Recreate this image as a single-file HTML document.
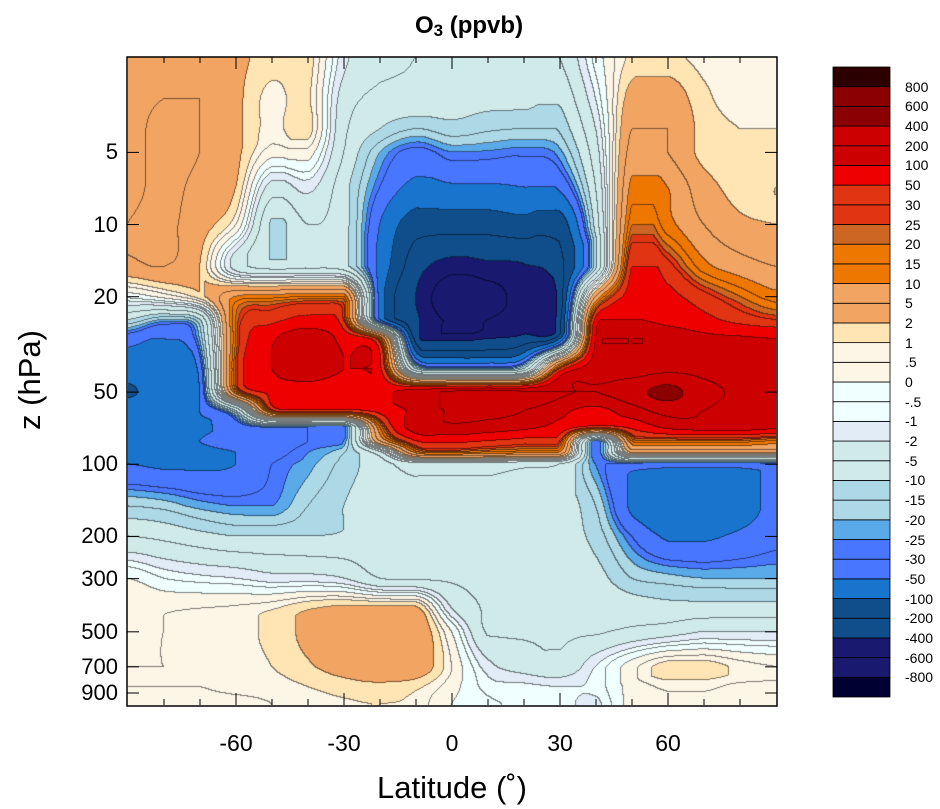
<!DOCTYPE html>
<html><head><meta charset="utf-8"><style>
body{margin:0;background:#fff;width:940px;height:809px;overflow:hidden;position:relative;font-family:"Liberation Sans",sans-serif}
.abs{position:absolute}
.yl{position:absolute;right:822px;font-size:22px;line-height:22px;text-align:right}
.xl{position:absolute;top:730px;font-size:23px;width:60px;text-align:center;margin-left:-30px}
.cbl{position:absolute;left:905px;font-size:14px;line-height:14px}
</style></head><body>
<div class="abs" style="left:0;width:940px;top:12px;text-align:center;font-weight:bold;font-size:24px"><span style="margin-left:-2px">O<span style="font-size:17px;position:relative;top:3px">3</span> (ppvb)</span></div>
<canvas id="cv" width="648" height="648" class="abs" style="left:128px;top:57px"></canvas>
<svg class="abs" style="left:0;top:0" width="940" height="809" id="ax"></svg>
<div class="abs" style="left:127px;width:650px;top:770px;text-align:center;font-size:31px">Latitude (˚)</div>
<div class="abs" style="left:30px;top:380px;font-size:31px;transform:translate(-50%,-50%) rotate(-90deg);white-space:nowrap">z (hPa)</div>
<div id="lbls"></div>
<script>
const lats=[-90,-80,-70,-60,-50,-40,-30,-20,-10,0,10,20,30,40,50,60,70,80,90];
const pressures=[2,3,4,5,7,10,15,20,25,30,40,50,60,70,80,90,100,150,200,300,400,500,700,850,1000];
const o3=[
[4,4,4,2.5,1.5,1.5,-1.5,-4,-5,-5,-5,-5,-5,-0.3,1.2,1.2,0.8,0.8,0.8],
[4,5,5,2.5,0.7,1.2,-3,-6,-6,-7,-8,-8,-9,-1,3,3.5,1.2,0.8,0.8],
[4,6,5,2.5,0.7,1.5,-4,-10,-15,-12,-14,-15,-14,-2,5,5,1.5,1,1],
[4,6,5,2.5,0.2,0.3,-5,-20,-35,-25,-26,-28,-22,-3,7,5,1.5,1.2,1.5],
[4,6,4,2,-3,-1.5,-8,-30,-60,-55,-55,-50,-45,-5,12,10,3,1.5,2],
[5,6,3,0.5,-11,-5,-8,-50,-150,-150,-150,-130,-150,-8,20,12,5,2.5,2],
[4,5,2,-3,-7,-6,-8,-60,-300,-500,-450,-420,-250,-12,50,35,12,7,5],
[-0.3,0.2,1.5,10,12,15,15,-60,-400,-750,-700,-500,-300,5,70,60,35,20,12],
[-10,-20,-10,20,40,60,30,-50,-350,-650,-600,-450,-250,60,100,80,60,40,30],
[-40,-50,-20,20,90,150,80,20,-250,-450,-400,-300,-100,100,200,160,120,110,100],
[-70,-70,-40,25,100,150,100,60,-10,-20,-20,-10,30,150,150,170,160,140,120],
[-110,-70,-50,15,60,70,60,80,150,220,250,220,200,200,300,500,250,180,150],
[-70,-60,-50,-10,25,40,40,60,120,220,250,200,120,80,150,250,200,150,120],
[-60,-60,-55,-40,-25,-25,-30,15,150,180,150,120,80,40,60,120,150,150,120],
[-60,-55,-50,-40,-35,-30,-25,5,50,60,50,40,30,-25,15,20,20,20,15],
[-55,-55,-55,-50,-35,-25,-15,-3,10,15,12,10,8,-30,2,2,2,2,2],
[-50,-55,-55,-50,-30,-22,-13,-7,-3,-3,-3,-4,-5,-25,-35,-40,-40,-40,-35],
[-15,-17,-22,-25,-25,-15,-10,-6,-5.5,-5.5,-5.5,-6,-7,-15,-55,-70,-70,-60,-45],
[-5,-6,-8,-10,-10,-10,-9,-6,-5.5,-5.5,-5.5,-6,-7,-12,-30,-55,-55,-45,-35],
[0,-0.5,-0.8,-1,-1.5,-1.5,-2,-5,-5.5,-5.5,-5.5,-6,-6,-8,-15,-18,-20,-20,-20],
[0.3,0.4,0.5,0.6,0.9,1.8,2.5,2.5,2.5,-2,-5.5,-5.5,-5.5,-6,-7,-8,-8,-8,-8],
[0.3,0.5,0.6,0.8,1.2,2.5,4,4.5,4.5,0,-5.5,-5.5,-5.5,-5.5,-4,-3,-2,-2,-2],
[0.5,0.5,0.6,0.7,1,1.8,3,4.5,4,0.5,-1.5,-3,-4,-1,0.3,1.5,1.5,0.8,0.5],
[0.5,0.5,0.5,0.6,0.7,1,1.4,1.6,1.2,0.2,-0.7,-0.8,-1,-0.8,0.2,0.6,0.6,0.4,0.4],
[0.4,0.4,0.4,0.4,0.5,0.7,0.9,1,0.8,0,-0.4,-0.6,-0.7,-1.2,0.2,0.4,0.4,0.4,0.4]];
const levels=[-800,-600,-400,-200,-100,-50,-30,-25,-20,-15,-10,-5,-2,-1,-0.5,0,0.5,1,2,5,10,15,20,25,30,50,100,200,400,600,800];
const levelLabels=["-800","-600","-400","-200","-100","-50","-30","-25","-20","-15","-10","-5","-2","-1","-.5","0",".5","1","2","5","10","15","20","25","30","50","100","200","400","600","800"];
const colors=["#000033","#191970","#191970","#104e8b","#104e8b","#1874cd","#4876ff","#4876ff","#5aaaea","#add8e6","#add8e6","#d0eaea","#d0eaea","#e2ecf7","#f0ffff","#f0ffff","#fdf5e6","#fdf5e6","#ffe4b4","#f2a463","#f2a463","#ee7700","#ee7700","#cc6622","#e03412","#e03412","#ee0000","#cc0000","#cc0000","#8b0000","#8b0000","#2d0000"];
const xTicks=[-60,-30,0,30,60];
const yTicks=[5,10,20,50,100,200,300,500,700,900];

const X0=128,X1=776,Y0=57,Y1=705,PTOP=2,PBOT=1010;
function xScale(lat){return X0+(lat+90)/180*(X1-X0);}
function yScale(p){return Y0+(Math.log10(p)-Math.log10(PTOP))/(Math.log10(PBOT)-Math.log10(PTOP))*(Y1-Y0);}
function xInv(x){return (x-X0)/(X1-X0)*180-90;}
function yInv(y){return Math.pow(10,Math.log10(PTOP)+(y-Y0)/(Y1-Y0)*(Math.log10(PBOT)-Math.log10(PTOP)));}
function tf(v){return Math.sign(v)*Math.log10(1+Math.abs(v));}
function itf(t){return Math.sign(t)*(Math.pow(10,Math.abs(t))-1);}
const logP=pressures.map(p=>Math.log10(p));
const T=o3.map(r=>r.map(tf));
function g(j,i){j=Math.max(0,Math.min(T.length-1,j));i=Math.max(0,Math.min(lats.length-1,i));return T[j][i];}
function cr(p0,p1,p2,p3,t){
  let v=0.5*((2*p1)+(-p0+p2)*t+(2*p0-5*p1+4*p2-p3)*t*t+(-p0+3*p1-3*p2+p3)*t*t*t);
  const lo=Math.min(p1,p2),hi=Math.max(p1,p2);return Math.max(lo,Math.min(hi,v));
}
function field(lat,p){
  let lp=Math.log10(p);
  let fi=(lat-lats[0])/(lats[1]-lats[0]);fi=Math.max(0,Math.min(lats.length-1.0001,fi));
  let i=Math.floor(fi),a=fi-i;
  let j=0;while(j<logP.length-2&&lp>logP[j+1])j++;
  let b=(lp-logP[j])/(logP[j+1]-logP[j]);b=Math.max(0,Math.min(1,b));
  const rows=[];
  for(let jj=j-1;jj<=j+2;jj++)rows.push(cr(g(jj,i-1),g(jj,i),g(jj,i+1),g(jj,i+2),a));
  return itf(cr(rows[0],rows[1],rows[2],rows[3],b));
}
function cls(v){v=Math.round(v*1e5)/1e5;let k=0;while(k<levels.length&&v>=levels[k])k++;return k;}
const cv=document.getElementById('cv'),ctx=cv.getContext('2d');
const W=648,H=648,img=ctx.createImageData(W,H);
const C=new Int16Array(W*H);
for(let y=0;y<H;y++)for(let x=0;x<W;x++)C[y*W+x]=cls(field(xInv(X0+x+0.5),yInv(Y0+y+0.5)));
function hex(h){return [parseInt(h.substr(1,2),16),parseInt(h.substr(3,2),16),parseInt(h.substr(5,2),16)];}
const rgb=colors.map(hex);
for(let y=0;y<H;y++)for(let x=0;x<W;x++){
  let k=C[y*W+x],c=rgb[k],o=(y*W+x)*4;
  let edge=(x<W-1&&C[y*W+x+1]!==k)||(y<H-1&&C[(y+1)*W+x]!==k);
  let f=edge?0.5:1;
  img.data[o]=c[0]*f;img.data[o+1]=c[1]*f;img.data[o+2]=c[2]*f;img.data[o+3]=255;
}
ctx.putImageData(img,0,0);

const NS="http://www.w3.org/2000/svg",svg=document.getElementById('ax');
function el(t,a){const e=document.createElementNS(NS,t);for(const k in a)e.setAttribute(k,a[k]);svg.appendChild(e);return e;}
const fr=el('rect',{x:127,y:57,width:650,height:649,fill:'none',stroke:'#000','stroke-width':1.5});


for(let lat=-80;lat<=80;lat+=10){
  const x=xScale(lat),L=xTicks.includes(lat)?12:6;
  const t1=el('line',{x1:x,x2:x,y1:Y1,y2:Y1-L,stroke:'#000','stroke-width':1});
  
  
  const t2=el('line',{x1:x,x2:x,y1:Y0,y2:Y0+L,stroke:'#000','stroke-width':1});
  
  
}
yTicks.forEach(p=>{const y=yScale(p);
  const t1=el('line',{x1:X0-1,x2:X0+11,y1:y,y2:y,stroke:'#000','stroke-width':1});
  
  
  const t2=el('line',{x1:X1+1,x2:X1-11,y1:y,y2:y,stroke:'#000','stroke-width':1});
  
  
});
const lb=document.getElementById('lbls');
xTicks.forEach(v=>{const d=document.createElement('div');d.className='xl';d.style.left=xScale(v)+'px';d.textContent=v;
  
  
  lb.appendChild(d);});
yTicks.forEach(v=>{const d=document.createElement('div');d.className='yl';d.style.top=(yScale(v)-11)+'px';d.textContent=v;
  
  
  lb.appendChild(d);});
const CB0=67,CB1=697,CBX=833,CBW=57,n=colors.length,bh=(CB1-CB0)/n;
for(let k=0;k<n;k++){
  const r=el('rect',{x:CBX,y:CB0+(n-1-k)*bh,width:CBW,height:bh,fill:colors[k],stroke:'#000','stroke-width':0.8});
  
  
}
levelLabels.forEach((t,k)=>{const d=document.createElement('div');d.className='cbl';
  d.style.top=(CB0+(n-1-k)*bh-7)+'px';d.textContent=t;
  
  
  lb.appendChild(d);});
</script>
</body></html>
